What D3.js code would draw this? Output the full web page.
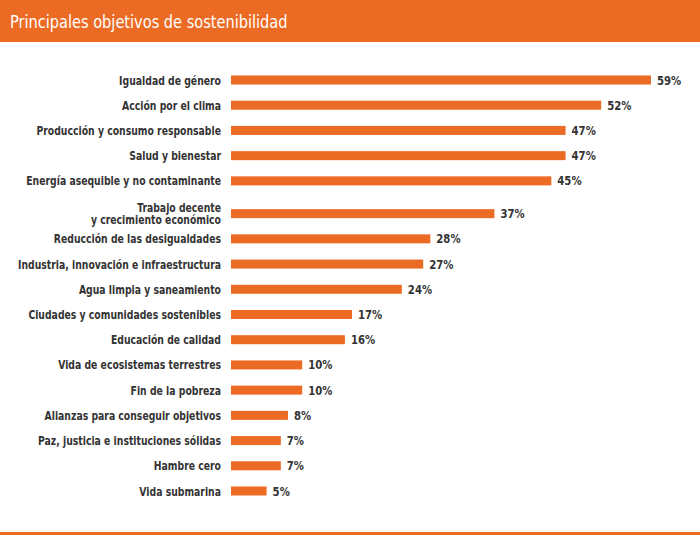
<!DOCTYPE html>
<html lang="es">
<head>
<meta charset="UTF-8">
<script src="https://d3js.org/d3.v7.min.js"></script>
<style>
  body { margin: 0; background: #fff; }
  text { font-family: "DejaVu Sans Condensed", "DejaVu Sans", sans-serif; }
</style>
</head>
<body>
<svg id="chart" width="700" height="537"></svg>
<script>
const categories = [
  ["Igualdad de género"],
  ["Acción por el clima"],
  ["Producción y consumo responsable"],
  ["Salud y bienestar"],
  ["Energía asequible y no contaminante"],
  ["Trabajo decente", "y crecimiento económico"],
  ["Reducción de las desigualdades"],
  ["Industria, innovación e infraestructura"],
  ["Agua limpia y saneamiento"],
  ["Ciudades y comunidades sostenibles"],
  ["Educación de calidad"],
  ["Vida de ecosistemas terrestres"],
  ["Fin de la pobreza"],
  ["Alianzas para conseguir objetivos"],
  ["Paz, justicia e instituciones sólidas"],
  ["Hambre cero"],
  ["Vida submarina"]
];
const values = [59, 52, 47, 47, 45, 37, 28, 27, 24, 17, 16, 10, 10, 8, 7, 7, 5];
const title = "Principales objetivos de sostenibilidad";
const orange = "#ec6b24";

const svg = d3.select("#chart");

svg.append("rect").attr("x", 0).attr("y", 0).attr("width", 700).attr("height", 42).attr("fill", orange);
svg.append("text").attr("transform", "translate(10,28) scale(0.9,1)").attr("fill", "#fff")
  .style("font-size", "18px").text(title);
svg.append("rect").attr("x", 0).attr("y", 532).attr("width", 700).attr("height", 3).attr("fill", orange);

// row positions: two-line labels take extra room
let acc = 0;
const slots = categories.map(c => {
  const extra = (c.length - 1) * 0.3;
  const pos = acc + extra;
  acc += 1 + extra;
  return pos;
});
const y = d3.scaleLinear().domain([0, slots[slots.length - 1]]).range([80, 491]);
const x = d3.scaleLinear().domain([0, 59]).range([231, 651]);

const rows = svg.selectAll("g.row").data(values).join("g").attr("class", "row")
  .attr("transform", (d, i) => `translate(0,${y(slots[i])})`);

rows.append("rect")
  .attr("x", x(0)).attr("y", -4.5)
  .attr("width", d => x(d) - x(0)).attr("height", 9)
  .attr("fill", orange);

rows.append("text")
  .attr("transform", d => `translate(${x(d) + 6},4.5) scale(0.9,1)`)
  .attr("fill", "#333").style("font-size", "12.5px").style("font-weight", "bold")
  .text(d => d + "%");

rows.append("text")
  .attr("transform", "translate(221,0) scale(0.86,1)")
  .attr("text-anchor", "end")
  .attr("fill", "#333").style("font-size", "12px").style("font-weight", "bold")
  .each(function(d, i) {
    const lines = categories[i];
    d3.select(this).selectAll("tspan").data(lines).join("tspan")
      .attr("x", 0)
      .attr("y", (l, j) => 4.5 + (j - (lines.length - 1) / 2) * 12)
      .text(l => l);
  });
</script>
</body>
</html>
